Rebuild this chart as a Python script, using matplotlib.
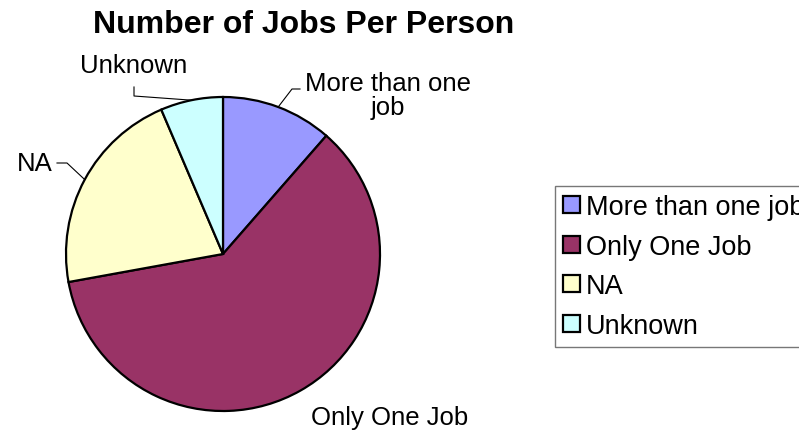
"""
Number of jobs per person, pie chart in the old Excel look.
"""

import numpy as np
import matplotlib
matplotlib.use('Agg')
import matplotlib.pyplot as plt

categories = ['More than one job', 'Only One Job', 'NA', 'Unknown']
counts = [16, 85, 30, 9]
colors = ['#9999FF', '#993366', '#FFFFCC', '#CCFFFF']
pie_labels = ['More than one\njob', 'Only One Job', 'NA', 'Unknown']

plt.rcParams['font.family'] = ['Liberation Sans', 'DejaVu Sans']

W, H = 799, 435
fig = plt.figure(figsize=(W / 100, H / 100), dpi=100)
# one axes over the whole figure, one data unit = one pixel
ax = fig.add_axes([0, 0, 1, 1])

cx, cy, r = 223, H - 255, 157
wedges, _ = ax.pie(
        counts,
        colors=colors,
        startangle=90,
        counterclock=False,
        center=(cx, cy),
        radius=r,
        frame=True,
        wedgeprops=dict(edgecolor='black', linewidth=1.6),
        )
ax.set_xlim(0, W)
ax.set_ylim(0, H)
ax.set_aspect('auto')
ax.axis('off')


def edge_point(w):
    mid = np.deg2rad((w.theta1 + w.theta2) / 2)
    return cx + r * np.cos(mid), cy + r * np.sin(mid)


fs = 18.5
# label text positions (pixels from top) and leader elbows
label_pos = {
    0: (388, 96),
    1: (390, 418),
    2: (35, 164),
    3: (134, 66),
}
elbows = {
    0: [(300, 90), (292, 90)],
    2: [(57, 164), (67, 164)],
    3: [(134, 88), (134, 97)],
}
for i, w in enumerate(wedges):
    x, y = label_pos[i]
    ax.text(x, H - y, pie_labels[i], fontsize=fs, ha='center', va='center',
            linespacing=1.0)
    if i in elbows:
        ex, ey = edge_point(w)
        pts = elbows[i]
        xs = [p[0] for p in pts] + [ex]
        ys = [H - p[1] for p in pts] + [ey]
        ax.plot(xs, ys, color='black', linewidth=0.8)

fig.text(304 / W, 1 - 25 / H, 'Number of Jobs Per Person', fontsize=23,
         fontweight='bold', ha='center', va='center')

leg = ax.legend(
        wedges, categories,
        loc='upper left',
        bbox_to_anchor=(555 / W, 1 - 187 / H),
        bbox_transform=fig.transFigure,
        fontsize=19.5,
        frameon=True,
        fancybox=False,
        handlelength=0.63,
        handleheight=0.6,
        handletextpad=0.2,
        labelspacing=0.5,
        borderpad=0.3,
        borderaxespad=0,
        )
leg.get_frame().set_edgecolor('#555555')
leg.get_frame().set_linewidth(1.0)
for h in leg.legend_handles:
    h.set_linewidth(1.6)

fig.savefig('out.png', dpi=100)
